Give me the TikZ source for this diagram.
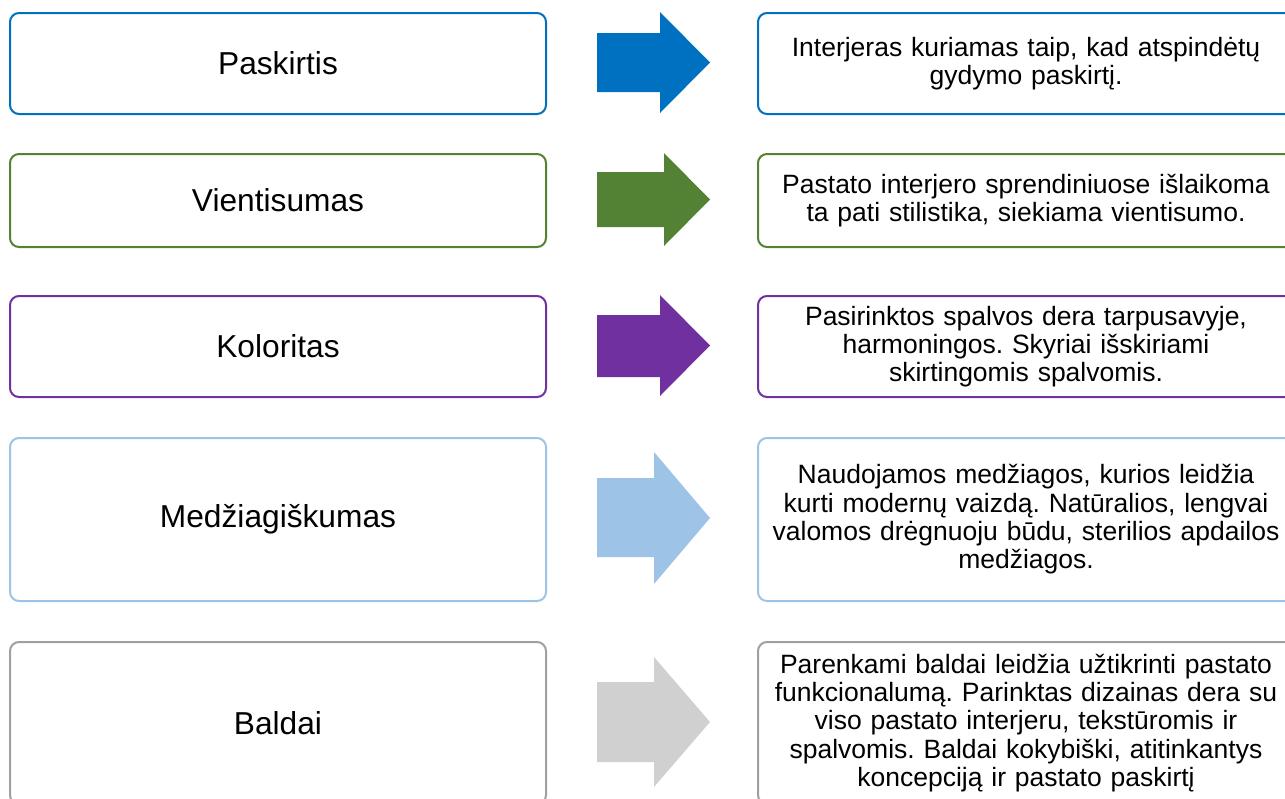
\documentclass[tikz,border=0pt]{standalone}
\usepackage{fontspec}
\setmainfont{Liberation Sans}
\frenchspacing
\definecolor{cblue}{HTML}{0070C0}
\definecolor{cgreen}{HTML}{548235}
\definecolor{cpurple}{HTML}{7030A0}
\definecolor{clblue}{HTML}{9DC3E6}
\definecolor{cgrayline}{HTML}{A0A0A0}
\definecolor{cgrayfill}{HTML}{D0D0D0}
\begin{document}
\begin{tikzpicture}[x=1pt,y=-1pt,
  lbox/.style={draw, line width=2pt, rounded corners=9pt, fill=white,
    minimum width=536pt, anchor=north west, inner sep=0pt,
    font=\fontsize{31.7}{36}\selectfont},
  rbox/.style={draw, line width=2pt, rounded corners=9pt, fill=white,
    minimum width=536pt, anchor=north west, inner sep=0pt,
    text width=520pt, align=center,
    font=\fontsize{26.5}{28.3}\selectfont}
]
\useasboundingbox (0,0) rectangle (1285,798);
\clip (0,0) rectangle (1285,798);

% Row 1
\node[lbox, draw=cblue, minimum height=101pt] (L1) at (9,12) {Paskirtis};
\node[rbox, draw=cblue, minimum height=101pt] (R1) at (757,12)
  {Interjeras kuriamas taip, kad atspindėtų\\gydymo paskirtį.};
\fill[cblue] (597,33) -- (660,33) -- (660,12) -- (710,62.5) -- (660,113) -- (660,92) -- (597,92) -- cycle;

% Row 2
\node[lbox, draw=cgreen, minimum height=93pt] (L2) at (9,153) {Vientisumas};
\node[rbox, draw=cgreen, minimum height=93pt] (R2) at (757,153)
  {Pastato interjero sprendiniuose išlaikoma\\ta pati stilistika, siekiama vientisumo.};
\fill[cgreen] (597,172) -- (664,172) -- (664,153) -- (710,199.5) -- (664,246) -- (664,227) -- (597,227) -- cycle;

% Row 3
\node[lbox, draw=cpurple, minimum height=101pt] (L3) at (9,295) {Koloritas};
\node[rbox, draw=cpurple, minimum height=101pt] (R3) at (757,295)
  {Pasirinktos spalvos dera tarpusavyje,\\harmoningos. Skyriai išskiriami\\skirtingomis spalvomis.};
\fill[cpurple] (597,315) -- (660,315) -- (660,295) -- (710,345.5) -- (660,396) -- (660,377) -- (597,377) -- cycle;

% Row 4
\node[lbox, draw=clblue, minimum height=163pt] (L4) at (9,437) {Medžiagiškumas};
\node[rbox, draw=clblue, minimum height=163pt] (R4) at (757,437)
  {Naudojamos medžiagos, kurios leidžia\\kurti modernų vaizdą. Natūralios, lengvai\\valomos drėgnuoju būdu, sterilios apdailos\\medžiagos.};
\fill[clblue] (597,478) -- (654,478) -- (654,452) -- (710,518) -- (654,584) -- (654,557) -- (597,557) -- cycle;

% Row 5
\node[lbox, draw=cgrayline, minimum height=162pt] (L5) at (9,641) {Baldai};
\node[rbox, draw=cgrayline, minimum height=162pt] (R5) at (757,641)
  {Parenkami baldai leidžia užtikrinti pastato\\funkcionalumą. Parinktas dizainas dera su\\viso pastato interjeru, tekstūromis ir\\spalvomis. Baldai kokybiški, atitinkantys\\koncepciją ir pastato paskirtį};
\fill[cgrayfill] (597,682) -- (654,682) -- (654,657) -- (710,722) -- (654,787) -- (654,762) -- (597,762) -- cycle;
\end{tikzpicture}
\end{document}
